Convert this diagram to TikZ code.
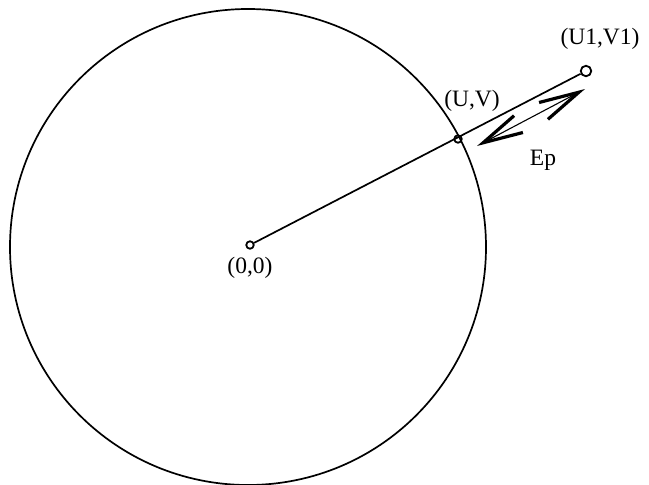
\documentclass[tikz,border=0pt]{standalone}
\usepackage{fontspec}
\setmainfont{Liberation Serif}
\usetikzlibrary{arrows.meta,positioning}

\begin{document}
\begin{tikzpicture}[
  x=1pt, y=-1pt,
  dot/.style={draw, circle, inner sep=0pt, minimum size=7.5pt, line width=1.8pt},
  lbl/.style={inner sep=0pt, font=\fontsize{23.5}{27}\selectfont},
  dbl/.style={{Straight Barb[length=40pt,width=19pt,line width=3.2pt]}-{Straight Barb[length=40pt,width=19pt,line width=3.2pt]}, line width=1.1pt}
]
\useasboundingbox (0,0) rectangle (649,485);
\draw[line width=1.7pt] (248,247) circle[radius=238];
\node[dot] (o) at (250,245) {};
\node[dot] (uv) at (458,139) {};
\node[dot, minimum size=10.5pt] (uv1) at (586,71) {};
\node[lbl, below=7pt of o] (lo) {(0,0)};
\node[lbl, above=23pt of uv, xshift=14pt] (luv) {(U,V)};
\node[lbl, above=15pt of uv1, xshift=14pt] (luv1) {(U1,V1)};
\coordinate (a1) at (477,146);
\coordinate (a2) at (585,89);
\node[lbl] (lep) at (543,160) {Ep};
\draw[line width=1.7pt] (o) -- (uv1);
\draw[dbl] (a1) -- (a2);
\end{tikzpicture}
\end{document}
